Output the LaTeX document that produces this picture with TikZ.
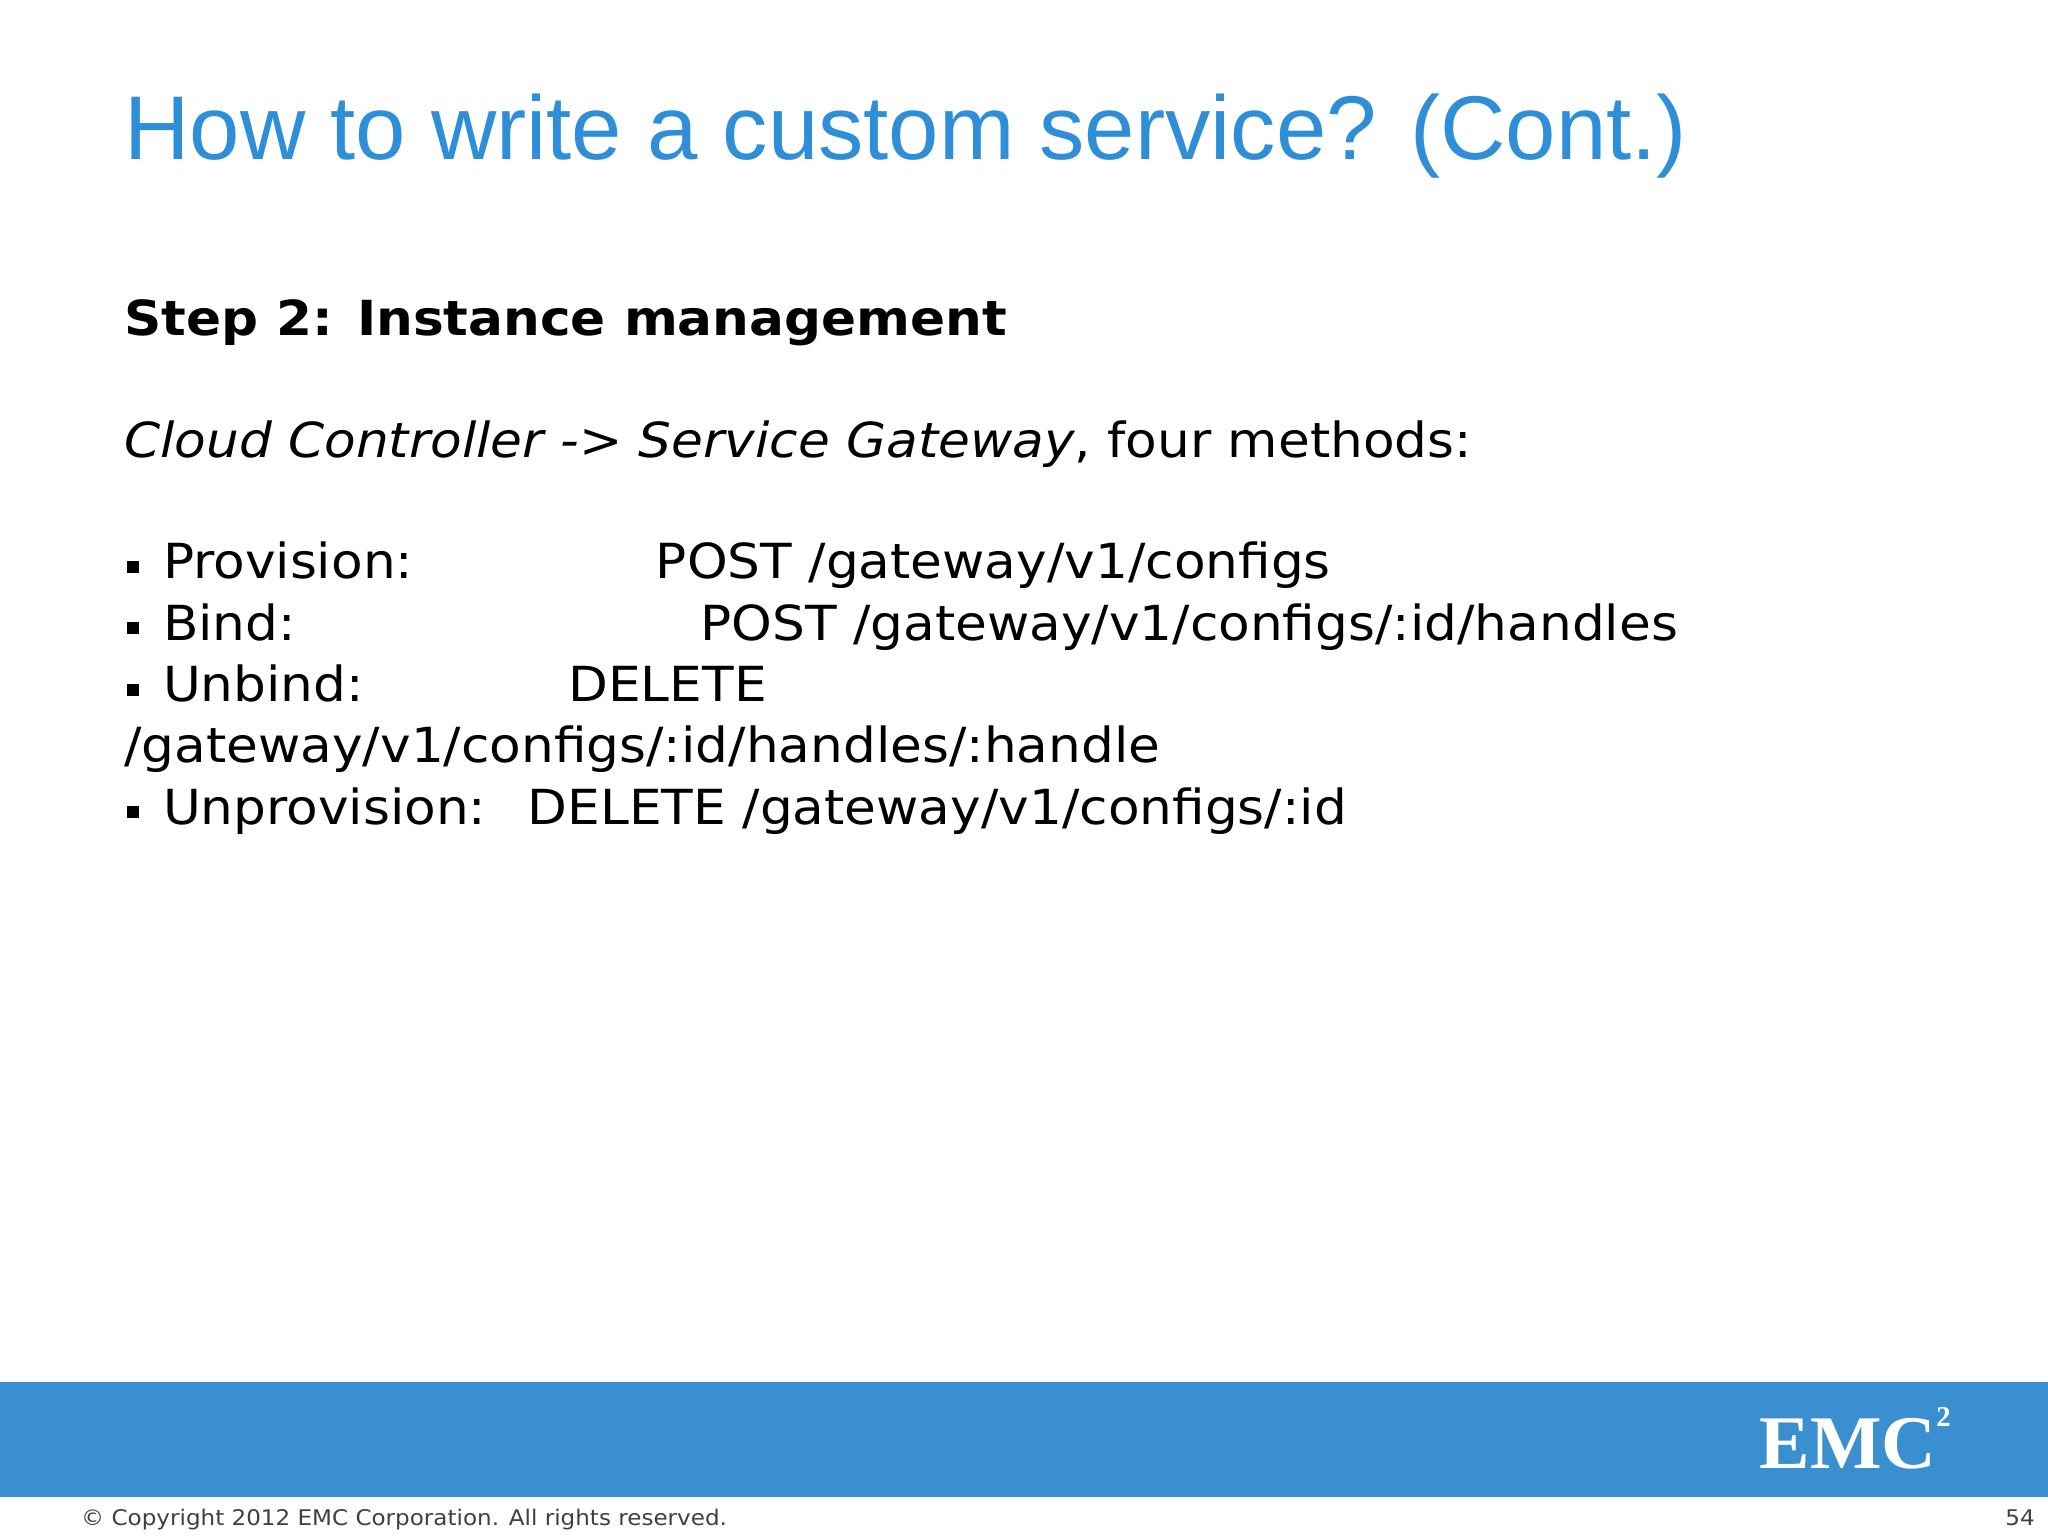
\documentclass[tikz,border=0pt]{standalone}
\usepackage{fontspec}
\setmainfont[FakeStretch=1.07]{DejaVu Sans}
\newfontfamily\titlefont{Liberation Sans}
\newfontfamily\logofont{Liberation Serif}
\definecolor{emcblue}{HTML}{3A8FD0}
\definecolor{titleblue}{HTML}{2E8FD8}
\newcommand{\sqbul}{\hspace*{0.05em}\raisebox{0.12em}{\rule{0.25em}{0.25em}}\hspace{0.5em}}
\begin{document}
\begin{tikzpicture}[x=1pt,y=-1pt,
  txt/.style={anchor=base west,inner sep=0pt,font=\fontsize{37}{44}\selectfont}]
\useasboundingbox (0,0) rectangle (1568,1176);
\fill[white] (0,0) rectangle (1568,1176);
\fill[emcblue] (0,1058) rectangle (1568,1146);
\node[anchor=base west,inner sep=0pt,text=titleblue,font=\titlefont\fontsize{69.3}{80}\selectfont] (title) at (95,122) {How to write a custom service? (Cont.)};
\node[txt,font=\bfseries\fontsize{37}{44}\selectfont] (step) at (95,257) {Step 2: Instance management};
\node[txt] (cc) at (95,350) {\textit{Cloud Controller -> Service Gateway}, four methods:};
\node[txt] (l1) at (95,443) {\sqbul Provision:};
\node[txt] (l1b) at (502,443) {POST /gateway/v1/configs};
\node[txt] (l2) at (95,490) {\sqbul Bind:};
\node[txt] (l2b) at (536,490) {POST /gateway/v1/configs/:id/handles};
\node[txt] (l3) at (95,537) {\sqbul Unbind:};
\node[txt] (l3b) at (435,537) {DELETE};
\node[txt] (l4) at (95,584) {/gateway/v1/configs/:id/handles/:handle};
\node[txt] (l5) at (95,631) {\sqbul Unprovision:};
\node[txt] (l5b) at (404,631) {DELETE /gateway/v1/configs/:id};
\node[anchor=base west,inner sep=0pt,text=white,font=\logofont\bfseries\fontsize{58}{60}\selectfont] (logo) at (1347,1124) {EMC\raisebox{0.55em}{\fontsize{22}{22}\selectfont 2}};
\node[anchor=base west,inner sep=0pt,text=black!75,font=\fontsize{16.5}{20}\selectfont] (copy) at (62,1168) {© Copyright 2012 EMC Corporation. All rights reserved.};
\node[anchor=base east,inner sep=0pt,text=black!75,font=\fontsize{16.5}{20}\selectfont] (pg) at (1558,1168) {54};
\end{tikzpicture}
\end{document}
